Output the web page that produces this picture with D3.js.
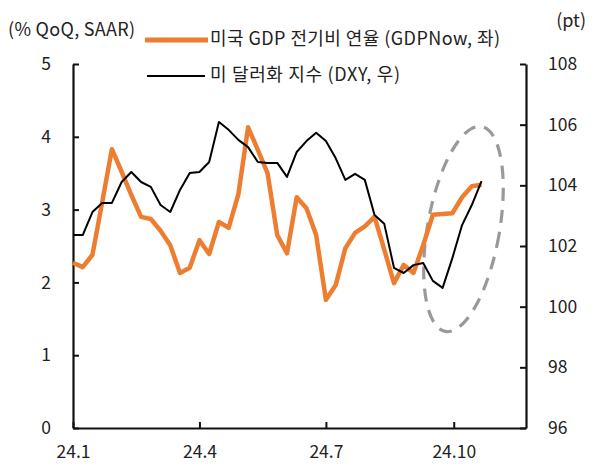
<!DOCTYPE html>
<html><head><meta charset="utf-8">
<script src="https://cdn.jsdelivr.net/npm/d3@7"></script>
<style>
body{margin:0;background:#fff}
text{font-family:"Noto Sans CJK KR","Noto Sans",sans-serif;fill:#222}
</style>
</head><body>
<svg id="c" width="595" height="473"></svg>
<script>
const dates = ["2024-01-01","2024-01-08","2024-01-15","2024-01-22","2024-01-29",
"2024-02-05","2024-02-12","2024-02-19","2024-02-26",
"2024-03-04","2024-03-11","2024-03-18","2024-03-25",
"2024-04-01","2024-04-08","2024-04-15","2024-04-22","2024-04-29",
"2024-05-06","2024-05-13","2024-05-20","2024-05-27",
"2024-06-03","2024-06-10","2024-06-17","2024-06-24",
"2024-07-01","2024-07-08","2024-07-15","2024-07-22","2024-07-29",
"2024-08-05","2024-08-12","2024-08-19","2024-08-26",
"2024-09-02","2024-09-09","2024-09-16","2024-09-23","2024-09-30",
"2024-10-07","2024-10-14","2024-10-21"];
const gdpNow = [2.27,2.21,2.38,3.10,3.83,3.52,3.20,2.90,2.87,2.71,2.51,2.13,2.20,2.58,2.39,2.83,2.75,3.21,4.13,3.82,3.50,2.65,2.40,3.17,3.02,2.65,1.76,1.96,2.47,2.68,2.77,2.90,2.45,1.99,2.24,2.13,2.51,2.93,2.94,2.95,3.17,3.32,3.34];
const dxy = [102.36,102.36,103.12,103.42,103.42,104.11,104.44,104.11,103.95,103.35,103.12,103.85,104.41,104.44,104.77,106.09,105.83,105.50,105.26,104.77,104.74,104.74,104.28,105.10,105.46,105.73,105.46,104.90,104.18,104.38,104.18,103.02,102.73,101.28,101.11,101.37,101.44,100.85,100.62,101.60,102.69,103.35,104.14];
const xTickDates = ["2024-01-01","2024-04-01","2024-07-01","2024-10-01"];
const xTickLabels = ["24.1","24.4","24.7","24.10"];
const leftTicks = [0,1,2,3,4,5];
const rightTicks = [96,98,100,102,104,106,108];
const seriesNames = ["미국 GDP 전기비 연율 (GDPNow, 좌)","미 달러화 지수 (DXY, 우)"];
const leftTitle = "(% QoQ, SAAR)";
const rightTitle = "(pt)";
const highlightCenter = {date:"2024-10-08", dxy:102.56};

const parse = d3.utcParse("%Y-%m-%d");
const svg = d3.select("#c");
const L = 73, R = 526, T = 64, B = 428;
const x = d3.scaleUtc().domain([parse("2024-01-01"), parse("2024-11-22")]).range([L, R]);
const yL = d3.scaleLinear().domain([0,5]).range([B,T]);
const yR = d3.scaleLinear().domain([96,108]).range([B,T]);
const orange = "#ED7D31";
const FONT = '"Noto Sans CJK KR","Noto Sans",sans-serif';

const data = dates.map((d,i)=>({d:parse(d), g:gdpNow[i], v:dxy[i]}));

const fs = 17.5;
const ax = svg.append("g").attr("transform",`translate(${L},0)`)
  .call(d3.axisLeft(yL).tickValues(leftTicks).tickFormat(d3.format("d")).tickSize(-6).tickSizeOuter(0).tickPadding(22));
const ar = svg.append("g").attr("transform",`translate(${R},0)`)
  .call(d3.axisRight(yR).tickValues(rightTicks).tickFormat(d3.format("d")).tickSize(-6).tickSizeOuter(0).tickPadding(22));
const xtd = xTickDates.map(parse);
const axb = svg.append("g").attr("transform",`translate(0,${B})`)
  .call(d3.axisBottom(x).tickValues(xtd).tickSize(-6).tickSizeOuter(0).tickPadding(18)
    .tickFormat((d,i)=>xTickLabels[i]));
[ax,ar,axb].forEach(g=>{
  g.selectAll("path.domain").attr("stroke","#111").attr("stroke-width",2.2);
  g.selectAll(".tick line").attr("stroke","#111").attr("stroke-width",2);
  g.selectAll("text").attr("font-size",fs).attr("font-family",FONT).attr("fill","#222");
});

// highlight ellipse
const cx = x(parse(highlightCenter.date)), cy = yR(highlightCenter.dxy);
svg.append("ellipse").attr("cx",0).attr("cy",0).attr("rx",36).attr("ry",104)
  .attr("transform",`translate(${cx},${cy}) rotate(10)`)
  .attr("fill","none").attr("stroke","#999").attr("stroke-width",3.2).attr("stroke-dasharray","13,9");

// lines
svg.append("path").datum(data)
  .attr("d", d3.line().x(d=>x(d.d)).y(d=>yL(d.g)))
  .attr("fill","none").attr("stroke",orange).attr("stroke-width",4.5).attr("stroke-linejoin","round");
svg.append("path").datum(data)
  .attr("d", d3.line().x(d=>x(d.d)).y(d=>yR(d.v)))
  .attr("fill","none").attr("stroke","#000").attr("stroke-width",2).attr("stroke-linejoin","round");

// titles
svg.append("text").attr("x",8).attr("y",31).attr("dominant-baseline","middle").attr("font-size",18)
  .attr("textLength",127).text(leftTitle);
svg.append("text").attr("x",586).attr("y",22).attr("text-anchor","end").attr("dominant-baseline","middle").attr("font-size",18).text(rightTitle);

// legend
const leg = [{c:orange,w:5,x1:145,x2:208,y:40,len:290},{c:"#000",w:2,x1:147,x2:205,y:76,len:190}];
leg.forEach((l,i)=>{
  svg.append("line").attr("x1",l.x1).attr("x2",l.x2).attr("y1",l.y).attr("y2",l.y)
    .attr("stroke",l.c).attr("stroke-width",l.w);
  svg.append("text").attr("x",210).attr("y",l.y).attr("dominant-baseline","middle")
    .attr("font-size",18).attr("textLength",l.len).text(seriesNames[i]);
});
</script>
</body></html>
